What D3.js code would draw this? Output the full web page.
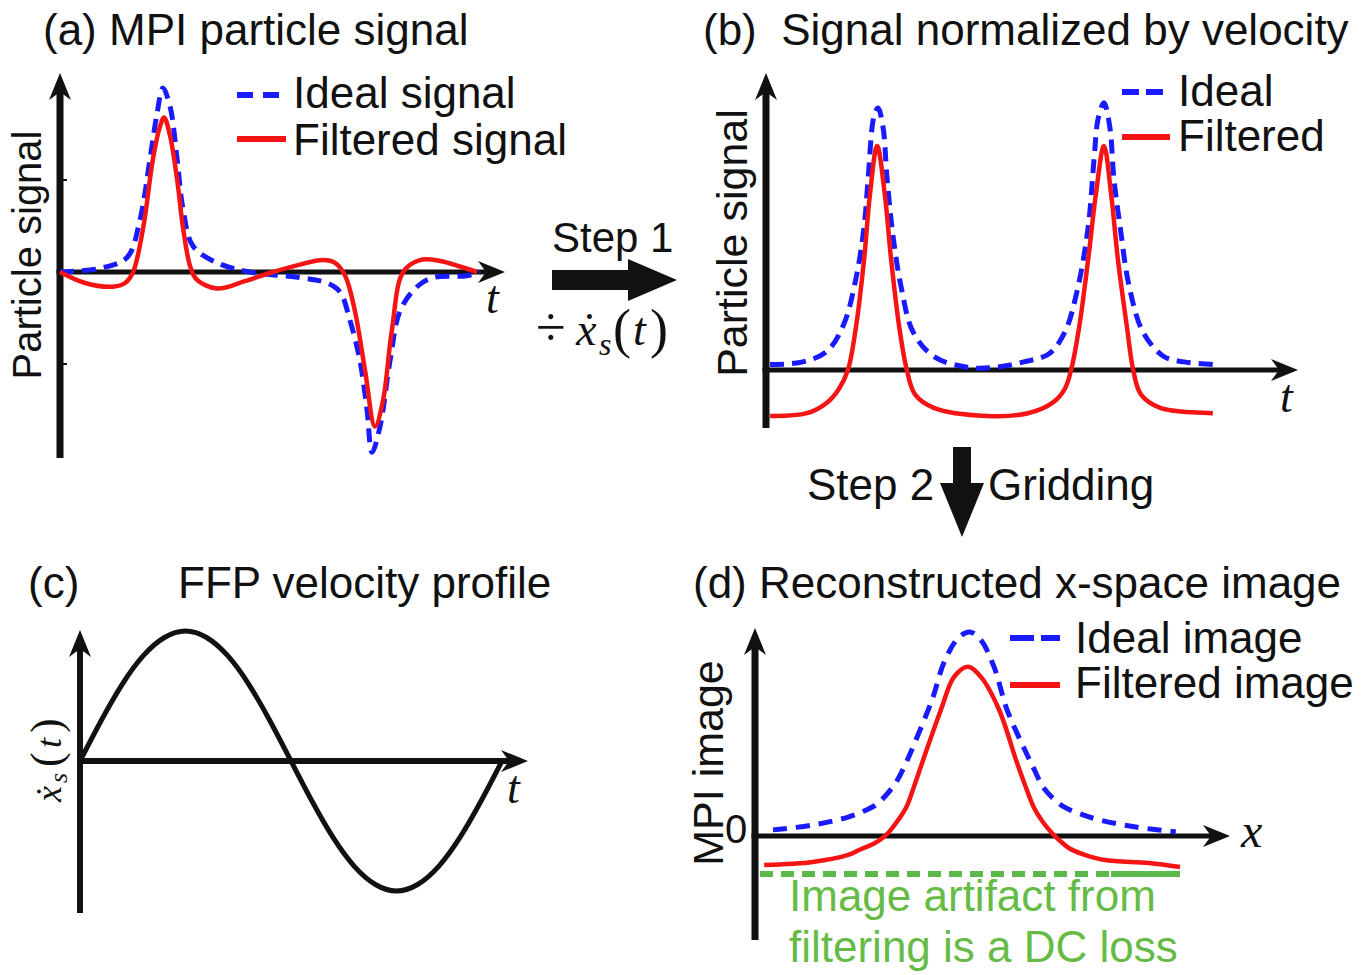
<!DOCTYPE html>
<html lang="en">
<head>
<meta charset="UTF-8">
<title>MPI x-space reconstruction</title>
<script src="https://d3js.org/d3.v7.min.js"></script>
<style>
  body { margin: 0; background: #fff; }
  svg text { font-family: "Liberation Sans", Arial, sans-serif; fill: #111; }
  svg text.math { font-family: "Liberation Serif", "Times New Roman", serif; font-style: italic; }
</style>
</head>
<body>
<svg id="fig" width="1371" height="975"></svg>
<script>
// ---- data (t in 0..100, signal in arbitrary units) ----
// (a) raw particle signal
const aIdeal = [[0,0],[9.5,0.02],[16,0.08],[19,0.28],[21.4,0.61],[23.1,0.86],[24.5,1.0],[26.2,0.9],[27.9,0.61],[29.3,0.34],[31.7,0.14],[37.4,0.05],[45.2,0],[57.1,-0.03],[63.6,-0.06],[66.7,-0.11],[69,-0.26],[71.4,-0.48],[73.1,-0.75],[74.3,-0.98],[76.2,-0.84],[78.6,-0.48],[81,-0.21],[85,-0.08],[88.8,-0.03],[96.9,-0.02],[100,0]];
const aFiltered = [[0,0],[6,-0.06],[12.6,-0.08],[15.5,-0.06],[17.4,0],[19.8,0.24],[22.1,0.61],[23.8,0.79],[24.8,0.84],[26.2,0.74],[27.9,0.5],[29.3,0.24],[31,0.03],[32.5,-0.04],[37.4,-0.09],[44,-0.05],[50.7,0],[57.1,0.04],[62.6,0.065],[65.5,0.05],[67.9,-0.02],[70.2,-0.21],[72.6,-0.53],[75,-0.84],[76.9,-0.7],[79,-0.32],[81.7,0],[85.7,0.065],[90.5,0.06],[95.2,0.03],[99.3,0]];
const aTicks = [0.5, -0.5];

// (b) signal divided by velocity
const bIdeal = [[0.9,0.02],[8.2,0.03],[13.6,0.07],[17.3,0.17],[20,0.34],[21.8,0.53],[22.7,0.71],[24,0.94],[24.9,0.97],[26,0.9],[26.9,0.71],[28.2,0.5],[30,0.31],[32.7,0.14],[37.3,0.05],[44.7,0.01],[50.9,0.01],[57.3,0.03],[62.9,0.06],[66.4,0.14],[69.1,0.29],[71.6,0.53],[72.9,0.78],[73.8,0.93],[75.1,0.99],[76.4,0.9],[77.3,0.71],[78.7,0.53],[80.7,0.31],[83.8,0.14],[88.4,0.05],[92.9,0.03],[99.3,0.02]];
const bFiltered = [[0.9,-0.17],[9.1,-0.16],[13.6,-0.12],[16.2,-0.07],[18.2,0],[20,0.16],[21.8,0.41],[23.1,0.65],[24.7,0.83],[26.4,0.65],[27.8,0.41],[29.6,0.16],[31.3,0],[33.1,-0.09],[37.3,-0.14],[49.1,-0.17],[58.2,-0.16],[63.8,-0.12],[66.4,-0.07],[67.8,0],[69.6,0.16],[71.6,0.41],[73.3,0.65],[75.1,0.83],[76.7,0.65],[78.2,0.41],[80.2,0.16],[81.6,0],[83.3,-0.09],[87.6,-0.14],[99.3,-0.16]];

// (c) FFP velocity over one period
const cVelocity = [[0,0],[0.05,0.31],[0.1,0.59],[0.15,0.81],[0.2,0.95],[0.25,1],[0.3,0.95],[0.35,0.81],[0.4,0.59],[0.45,0.31],[0.5,0],[0.55,-0.31],[0.6,-0.59],[0.65,-0.81],[0.7,-0.95],[0.75,-1],[0.8,-0.95],[0.85,-0.81],[0.9,-0.59],[0.95,-0.31],[1,0]];

// (d) gridded x-space image
const dIdeal = [[3.1,0.03],[12.6,0.054],[21,0.093],[24.5,0.12],[27.4,0.15],[30,0.2],[32.6,0.27],[34.8,0.36],[36.9,0.46],[41,0.67],[44,0.86],[47.4,0.975],[50,1.0],[52.6,0.96],[55.7,0.83],[58.8,0.62],[63.1,0.42],[65.2,0.33],[67.4,0.24],[70,0.18],[72.6,0.14],[76,0.11],[81,0.078],[89.5,0.044],[99,0.02]];
const dFiltered = [[1,-0.142],[12.6,-0.127],[21,-0.093],[24,-0.065],[27.4,-0.034],[29,-0.012],[30.5,0.015],[32.6,0.07],[34.8,0.14],[36.8,0.25],[38.8,0.37],[43.1,0.62],[46.2,0.78],[49.5,0.83],[52.6,0.78],[56.9,0.62],[61,0.37],[63.1,0.25],[65.2,0.14],[67.3,0.07],[69.5,0.015],[71.5,-0.025],[73.6,-0.06],[77,-0.09],[82.1,-0.118],[92.6,-0.132],[100,-0.152]];
const dcLevel = -0.186;
const dcDashedEnd = 83.6;

const titles = ['(a) MPI particle signal', '(b)  Signal normalized by velocity', '(c)', 'FFP velocity profile', '(d) Reconstructed x-space image'];
const legendA = ['Ideal signal', 'Filtered signal'];
const legendB = ['Ideal', 'Filtered'];
const legendD = ['Ideal image', 'Filtered image'];
const dcNote = ['Image artifact from', 'filtering is a DC loss'];

const BLUE = '#1a1aff', RED = '#f51414', GREEN = '#5cb848', INK = '#111';
const smooth = d3.curveCatmullRom.alpha(0.5);

const svg = d3.select('#fig');
svg.append('rect').attr('width', 1371).attr('height', 975).attr('fill', '#fff');

// stealth arrow head with its tip at (x, y)
function arrowHead(x, y, angle) {
    svg.append('path')
        .attr('d', 'M0,0 L-27,-11 L-19,0 L-27,11 Z')
        .attr('fill', INK)
        .attr('transform', `translate(${x},${y}) rotate(${angle})`);
}

// y-axis from bottom to the arrow tip, x-axis from origin to its tip
function axes(ox, oy, yTip, yBottom, xTip, vw, hw) {
    svg.append('line').attr('x1', ox).attr('y1', yBottom).attr('x2', ox).attr('y2', yTip + 16)
        .attr('stroke', INK).attr('stroke-width', vw);
    svg.append('line').attr('x1', ox - vw / 2).attr('y1', oy).attr('x2', xTip - 16).attr('y2', oy)
        .attr('stroke', INK).attr('stroke-width', hw);
    arrowHead(ox, yTip, -90);
    arrowHead(xTip, oy, 0);
}

function curve(sx, sy, data, color, width, dash, type) {
    const line = d3.line()
        .x(d => sx(d[0]))
        .y(d => sy(d[1]))
        .curve(type || smooth);
    svg.append('path')
        .attr('d', line(data))
        .attr('fill', 'none')
        .attr('stroke', color)
        .attr('stroke-width', width)
        .attr('stroke-dasharray', dash || null)
        .attr('stroke-linejoin', 'round');
}

function text(x, y, s, size, opts = {}) {
    return svg.append('text')
        .attr('x', x).attr('y', y)
        .attr('font-size', size)
        .attr('text-anchor', opts.anchor || 'start')
        .attr('transform', opts.rotate ? `rotate(-90,${x},${y})` : null)
        .style('white-space', 'pre')
        .style('fill', opts.color || INK)
        .text(s);
}

function legend(x1, x2, xText, yBlue, yRed, yTxt1, yTxt2, labels, dash) {
    svg.append('line').attr('x1', x1).attr('x2', x2).attr('y1', yBlue).attr('y2', yBlue)
        .attr('stroke', BLUE).attr('stroke-width', 6).attr('stroke-dasharray', dash);
    svg.append('line').attr('x1', x1).attr('x2', x2).attr('y1', yRed).attr('y2', yRed)
        .attr('stroke', RED).attr('stroke-width', 6);
    text(xText, yTxt1, labels[0], 44);
    text(xText, yTxt2, labels[1], 44);
}

function mathT(x, y) {
    svg.append('text').attr('class', 'math').attr('x', x).attr('y', y)
        .attr('font-size', 46).text('t');
}

// ---------- panel (a) ----------
const xa = d3.scaleLinear().domain([0, 100]).range([60, 480]);
const ya = d3.scaleLinear().domain([-1, 1]).range([456, 88]);
axes(60, ya(0), 73, 458, 505, 7, 5);
svg.selectAll('.tickA').data(aTicks).enter().append('line')
    .attr('x1', 60).attr('x2', 67)
    .attr('y1', d => ya(d)).attr('y2', d => ya(d))
    .attr('stroke', INK).attr('stroke-width', 2);
curve(xa, ya, aIdeal, BLUE, 5, '14,8');
curve(xa, ya, aFiltered, RED, 4.5);
text(43, 45, titles[0], 44);
text(41, 255, 'Particle signal', 40, { anchor: 'middle', rotate: true });
legend(237, 286, 293, 95, 139, 108, 155, legendA, '16,10');
mathT(486, 313);

// ---------- panel (b) ----------
const xb = d3.scaleLinear().domain([0, 100]).range([766, 1216]);
const yb = d3.scaleLinear().domain([0, 1]).range([370, 100]);
axes(766, yb(0), 73, 428, 1298, 7, 5);
curve(xb, yb, bIdeal, BLUE, 5, '14,8');
curve(xb, yb, bFiltered, RED, 4.5);
text(703, 45, titles[1], 44);
text(747, 243, 'Particle signal', 43, { anchor: 'middle', rotate: true });
legend(1122, 1170, 1178, 92, 137, 106, 151, legendB, '17,7');
mathT(1280, 412);

// ---------- step 1 ----------
text(552, 252, 'Step 1', 42);
svg.append('path')
    .attr('d', 'M552,270 L628,270 L628,259 L677,280 L628,301 L628,290 L552,290 Z')
    .attr('fill', INK);
const m1 = svg.append('text').attr('class', 'math').attr('y', 345).attr('font-size', 46);
m1.append('tspan').attr('x', 536).attr('font-size', 54).style('font-style', 'normal').text('÷');
m1.append('tspan').attr('x', 576).text('ẋ');
m1.append('tspan').attr('x', 599).attr('y', 355).attr('font-size', 32).text('s');
m1.append('tspan').attr('x', 613).attr('y', 347).attr('font-size', 54).style('font-style', 'normal').text('(');
m1.append('tspan').attr('x', 633).attr('y', 345).text('t');
m1.append('tspan').attr('x', 650).attr('y', 347).attr('font-size', 54).style('font-style', 'normal').text(')');

// ---------- step 2 ----------
text(807, 500, 'Step 2', 44);
text(988, 500, 'Gridding', 44);
svg.append('path')
    .attr('d', 'M953,447 L971,447 L971,483 L984,483 L962,537 L940,483 L953,483 Z')
    .attr('fill', INK);

// ---------- panel (c) ----------
const xc = d3.scaleLinear().domain([0, 1]).range([80, 502]);
const yc = d3.scaleLinear().domain([-1, 1]).range([891, 631]);
axes(80, yc(0), 630, 913, 528, 6, 6);
curve(xc, yc, cVelocity, INK, 5, null, d3.curveNatural);
text(28, 598, titles[2], 44);
text(178, 598, titles[3], 44);
mathT(507, 803);
const cl = svg.append('text').attr('class', 'math')
    .attr('transform', 'translate(61,802) rotate(-90)').attr('font-size', 36);
cl.append('tspan').attr('x', 0).attr('y', 0).text('ẋ');
cl.append('tspan').attr('x', 19).attr('y', 6).attr('font-size', 26).text('s');
cl.append('tspan').attr('x', 35).attr('y', 0).attr('font-size', 44).style('font-style', 'normal').text('(');
cl.append('tspan').attr('x', 54).attr('y', 0).text('t');
cl.append('tspan').attr('x', 69).attr('y', 0).attr('font-size', 44).style('font-style', 'normal').text(')');

// ---------- panel (d) ----------
const xd = d3.scaleLinear().domain([0, 100]).range([760, 1180]);
const yd = d3.scaleLinear().domain([0, 1]).range([836, 632]);
axes(755, yd(0), 628, 940, 1230, 7, 5);
curve(xd, yd, dIdeal, BLUE, 5, '14,9');
curve(xd, yd, dFiltered, RED, 4.5);
svg.append('line')
    .attr('x1', xd(0)).attr('x2', xd(dcDashedEnd)).attr('y1', yd(dcLevel)).attr('y2', yd(dcLevel))
    .attr('stroke', GREEN).attr('stroke-width', 6).attr('stroke-dasharray', '13,8');
svg.append('line')
    .attr('x1', xd(dcDashedEnd)).attr('x2', xd(100)).attr('y1', yd(dcLevel)).attr('y2', yd(dcLevel))
    .attr('stroke', GREEN).attr('stroke-width', 6);
text(693, 598, titles[4], 44);
text(723, 763, 'MPI image', 43, { anchor: 'middle', rotate: true });
text(725, 843, '0', 40);
svg.append('text').attr('class', 'math').attr('x', 1241).attr('y', 847).attr('font-size', 48).text('x');
legend(1010, 1060, 1075, 638, 685, 653, 698, legendD, '24,7');
text(789, 911, dcNote[0], 44, { color: '#66bb47' });
text(789, 962, dcNote[1], 44, { color: '#66bb47' });
</script>
</body>
</html>
